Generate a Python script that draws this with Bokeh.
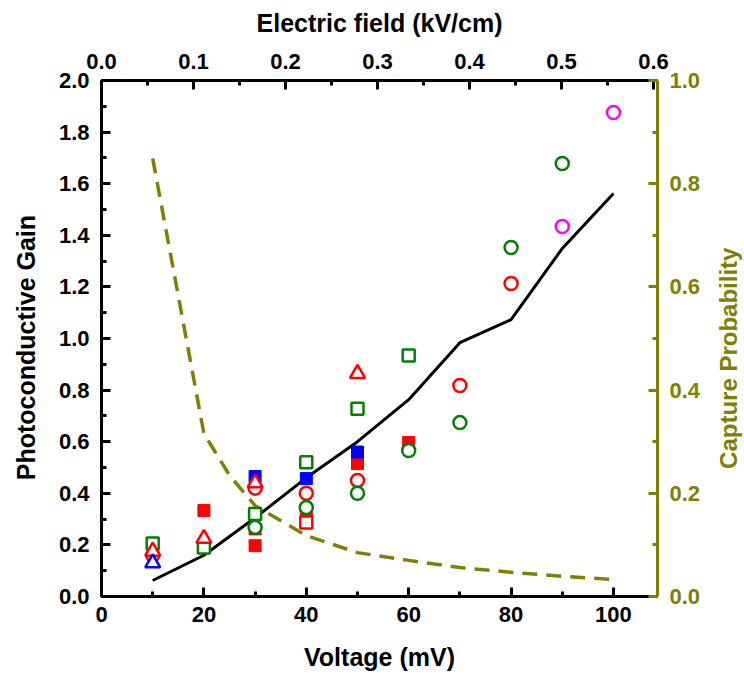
import math
from bokeh.plotting import figure
from bokeh.layouts import row
from bokeh.models import Range1d, LinearAxis, FixedTicker, NumeralTickFormatter, Label
from bokeh.embed import file_html
from bokeh.resources import INLINE

# ---- data ----
voltage = [10, 20, 30, 40, 50, 60, 70, 80, 90, 100]
gain_model = [0.062, 0.16, 0.305, 0.46, 0.60, 0.763, 0.984, 1.073, 1.349, 1.562]
capture_v = [10, 20, 25, 30, 40, 50, 60, 70, 80, 90, 100]
capture_prob = [0.849, 0.316, 0.235, 0.176, 0.118, 0.085, 0.070, 0.056, 0.047, 0.039, 0.033]

blue_tri_x = [10]
blue_tri_y = [0.13]
blue_sq_x = [30, 40, 50]
blue_sq_y = [0.465, 0.457, 0.56]
red_sqf_x = [20, 30, 30, 40, 50, 60]
red_sqf_y = [0.333, 0.197, 0.262, 0.31, 0.515, 0.597]
red_sqo_x = [40]
red_sqo_y = [0.287]
red_tri_x = [10, 20, 30, 50]
red_tri_y = [0.175, 0.225, 0.44, 0.864]
red_circ_x = [10, 30, 40, 50, 70, 80]
red_circ_y = [0.16, 0.42, 0.40, 0.45, 0.818, 1.213]
green_sq_x = [10, 20, 30, 40, 50, 60]
green_sq_y = [0.205, 0.19, 0.32, 0.52, 0.728, 0.934]
green_circ_x = [30, 40, 50, 60, 70, 80, 90]
green_circ_y = [0.268, 0.345, 0.40, 0.566, 0.674, 1.353, 1.678]
mag_circ_x = [90, 100]
mag_circ_y = [1.434, 1.876]

x_ticks = [0, 20, 40, 60, 80, 100]
y_ticks = [0.0, 0.2, 0.4, 0.6, 0.8, 1.0, 1.2, 1.4, 1.6, 1.8, 2.0]
top_ticks = [0.0, 0.1, 0.2, 0.3, 0.4, 0.5, 0.6]
right_ticks = [0.0, 0.2, 0.4, 0.6, 0.8, 1.0]

left_title = "Photoconductive Gain"
right_title = "Capture Probability"

mv_per_kvcm = 179.7
x_max = 108.6

OLIVE = "#808000"
FONT = "Liberation Sans"
TICK_FS = "22px"
TITLE_FS = "25px"

H = 680
LEFT_W = 44
RIGHT_W = 36
MAIN_W = 744 - LEFT_W - RIGHT_W

p = figure(width=MAIN_W, height=H, output_backend="svg", toolbar_location=None,
           x_range=Range1d(0, x_max), y_range=Range1d(0, 2.0),
           min_border_left=101 - LEFT_W, min_border_right=MAIN_W - (657 - LEFT_W),
           min_border_top=80, min_border_bottom=84)
p.outline_line_color = None
p.grid.visible = False
p.background_fill_color = "white"

p.extra_x_ranges = {"field": Range1d(0, x_max / mv_per_kvcm)}
p.extra_y_ranges = {"prob": Range1d(0, 1.0)}

def style_axis(ax, color="black"):
    ax.axis_line_width = 3
    ax.axis_line_color = color
    ax.major_tick_line_color = color
    ax.minor_tick_line_color = color
    ax.major_tick_line_width = 3
    ax.minor_tick_line_width = 3
    ax.major_tick_in = 9
    ax.major_tick_out = 0
    ax.minor_tick_in = 5
    ax.minor_tick_out = 0
    ax.major_label_text_font = FONT
    ax.major_label_text_font_style = "bold"
    ax.major_label_text_font_size = TICK_FS
    ax.major_label_text_color = color
    ax.axis_label_text_font = FONT
    ax.axis_label_text_font_style = "bold"
    ax.axis_label_text_font_size = TITLE_FS
    ax.axis_label_text_color = color

xb = p.xaxis[0]
xb.ticker = FixedTicker(ticks=x_ticks, minor_ticks=list(range(0, 110, 10)))
xb.axis_label = "Voltage (mV)"
style_axis(xb)
xb.major_label_standoff = 10
xb.axis_label_standoff = 18

yl = p.yaxis[0]
yl.ticker = FixedTicker(ticks=y_ticks, minor_ticks=[i / 10 for i in range(21)])
yl.formatter = NumeralTickFormatter(format="0.0")
style_axis(yl)
yl.major_label_standoff = 12

xt = LinearAxis(x_range_name="field", axis_label="Electric field (kV/cm)")
xt.ticker = FixedTicker(ticks=top_ticks, minor_ticks=[i * 0.05 for i in range(13)])
xt.formatter = NumeralTickFormatter(format="0.0")
style_axis(xt)
xt.major_label_standoff = 12
xt.axis_label_standoff = 14
p.add_layout(xt, "above")

yr = LinearAxis(y_range_name="prob")
yr.ticker = FixedTicker(ticks=right_ticks, minor_ticks=[i / 10 for i in range(11)])
yr.formatter = NumeralTickFormatter(format="0.0")
style_axis(yr, OLIVE)
yr.major_label_standoff = 12
p.add_layout(yr, "right")

# lines
p.line(capture_v, capture_prob, y_range_name="prob", line_color=OLIVE,
       line_width=3.5, line_dash="15 9")
p.line(voltage, gain_model, line_color="black", line_width=3)

LW = 2.5
p.scatter(red_sqf_x, red_sqf_y, marker="square", size=12, fill_color="red", line_color="red", line_width=1)
p.scatter(blue_sq_x, blue_sq_y, marker="square", size=12, fill_color="blue", line_color="blue", line_width=1)
p.scatter(red_sqo_x, red_sqo_y, marker="square", size=12, fill_color="white", line_color="red", line_width=LW)
p.scatter(green_sq_x, green_sq_y, marker="square", size=12, fill_color="white", line_color="green", line_width=LW)
p.scatter(red_circ_x, red_circ_y, marker="circle", size=13, fill_color="white", line_color="red", line_width=LW)
p.scatter(green_circ_x, green_circ_y, marker="circle", size=13, fill_color="white", line_color="green", line_width=LW)
p.scatter(mag_circ_x, mag_circ_y, marker="circle", size=13, fill_color="white", line_color="magenta", line_width=LW)
p.scatter(red_tri_x, red_tri_y, marker="triangle", size=15, fill_color="white", line_color="red", line_width=LW)
p.scatter(blue_tri_x, blue_tri_y, marker="triangle", size=15, fill_color="white", line_color="blue", line_width=LW)

# side strips carrying the rotated axis titles
def side_strip(w, text, cx, cy, color, fs):
    s = figure(width=w, height=H, output_backend="svg", toolbar_location=None,
               x_range=Range1d(0, w), y_range=Range1d(0, H),
               x_axis_type=None, y_axis_type=None,
               min_border=0, min_border_left=0, min_border_right=0,
               min_border_top=0, min_border_bottom=0)
    s.outline_line_color = None
    s.add_layout(Label(x=cx, y=H - cy, text=text, angle=math.pi / 2,
                       text_align="center", text_baseline="middle",
                       text_font=FONT, text_font_style="bold",
                       text_font_size=fs, text_color=color))
    return s

left_strip = side_strip(LEFT_W, left_title, 25, 352, "black", TITLE_FS)
right_strip = side_strip(RIGHT_W, right_title, 728 - (744 - RIGHT_W), 366, OLIVE, "24px")

layout = row(left_strip, p, right_strip, spacing=0)
open("out.html", "w").write(file_html(layout, INLINE))
